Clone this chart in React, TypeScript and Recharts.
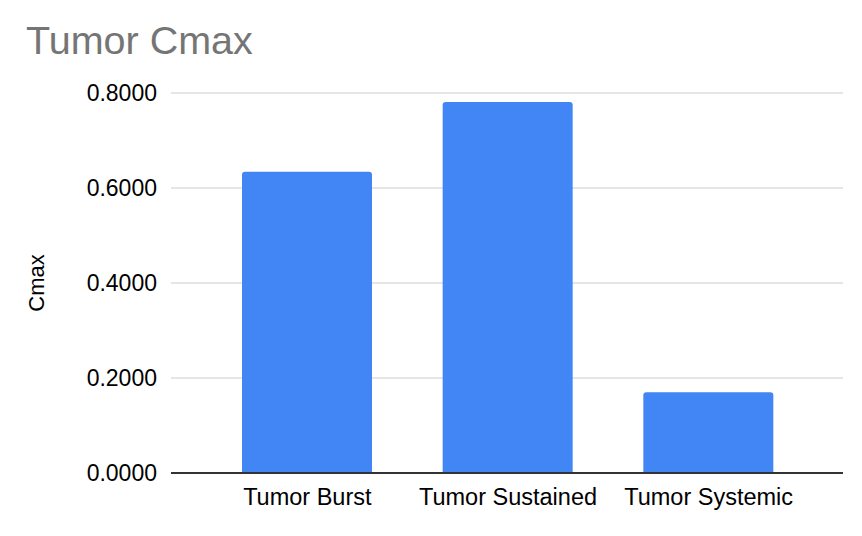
import { BarChart, Bar, XAxis, YAxis, CartesianGrid } from "recharts";

// Peak tumour concentration for each delivery mode.
const CATEGORIES = ["Tumor Burst", "Tumor Sustained", "Tumor Systemic"];
const CMAX = [0.634, 0.781, 0.17];
const Y_TICKS = [0, 0.2, 0.4, 0.6, 0.8];

const data = CATEGORIES.map((name, i) => ({ name, cmax: CMAX[i] }));

const FONT = '"Liberation Sans", Arial, Helvetica, sans-serif';

export default function App() {
  return (
    <div style={{ position: "absolute", left: 0, top: 0, width: 862, height: 536, background: "#fff" }}>
      <svg width={862} height={70} style={{ position: "absolute", left: 0, top: 0 }}>
        <text x={26} y={54} fontSize={39.5} fill="#757575" fontFamily={FONT}>
          Tumor Cmax
        </text>
      </svg>
      <BarChart
        width={862}
        height={536}
        data={data}
        margin={{ top: 93, right: 19, bottom: 23, left: 0 }}
        style={{ fontFamily: FONT }}
      >
        <CartesianGrid stroke="#cccccc" vertical={false} />
        <XAxis
          dataKey="name"
          height={40}
          padding={{ left: 36, right: 34 }}
          tickLine={false}
          tickSize={0}
          tickMargin={15}
          axisLine={{ stroke: "#333333", strokeWidth: 2 }}
          tick={{ fontSize: 23.5, fill: "#000" }}
        />
        <YAxis
          width={171}
          domain={[0, 0.8]}
          ticks={Y_TICKS}
          tickFormatter={(v: number) => v.toFixed(4)}
          tickLine={false}
          tickSize={0}
          tickMargin={14}
          axisLine={false}
          tick={{ fontSize: 23, fill: "#000" }}
          label={{
            value: "Cmax",
            angle: -90,
            position: "insideLeft",
            offset: 36,
            fontSize: 22,
            fill: "#000",
            style: { textAnchor: "middle" },
          }}
        />
        <Bar
          dataKey="cmax"
          fill="#4285f4"
          barSize={130}
          radius={[3, 3, 0, 0]}
          isAnimationActive={false}
        />
      </BarChart>
    </div>
  );
}
